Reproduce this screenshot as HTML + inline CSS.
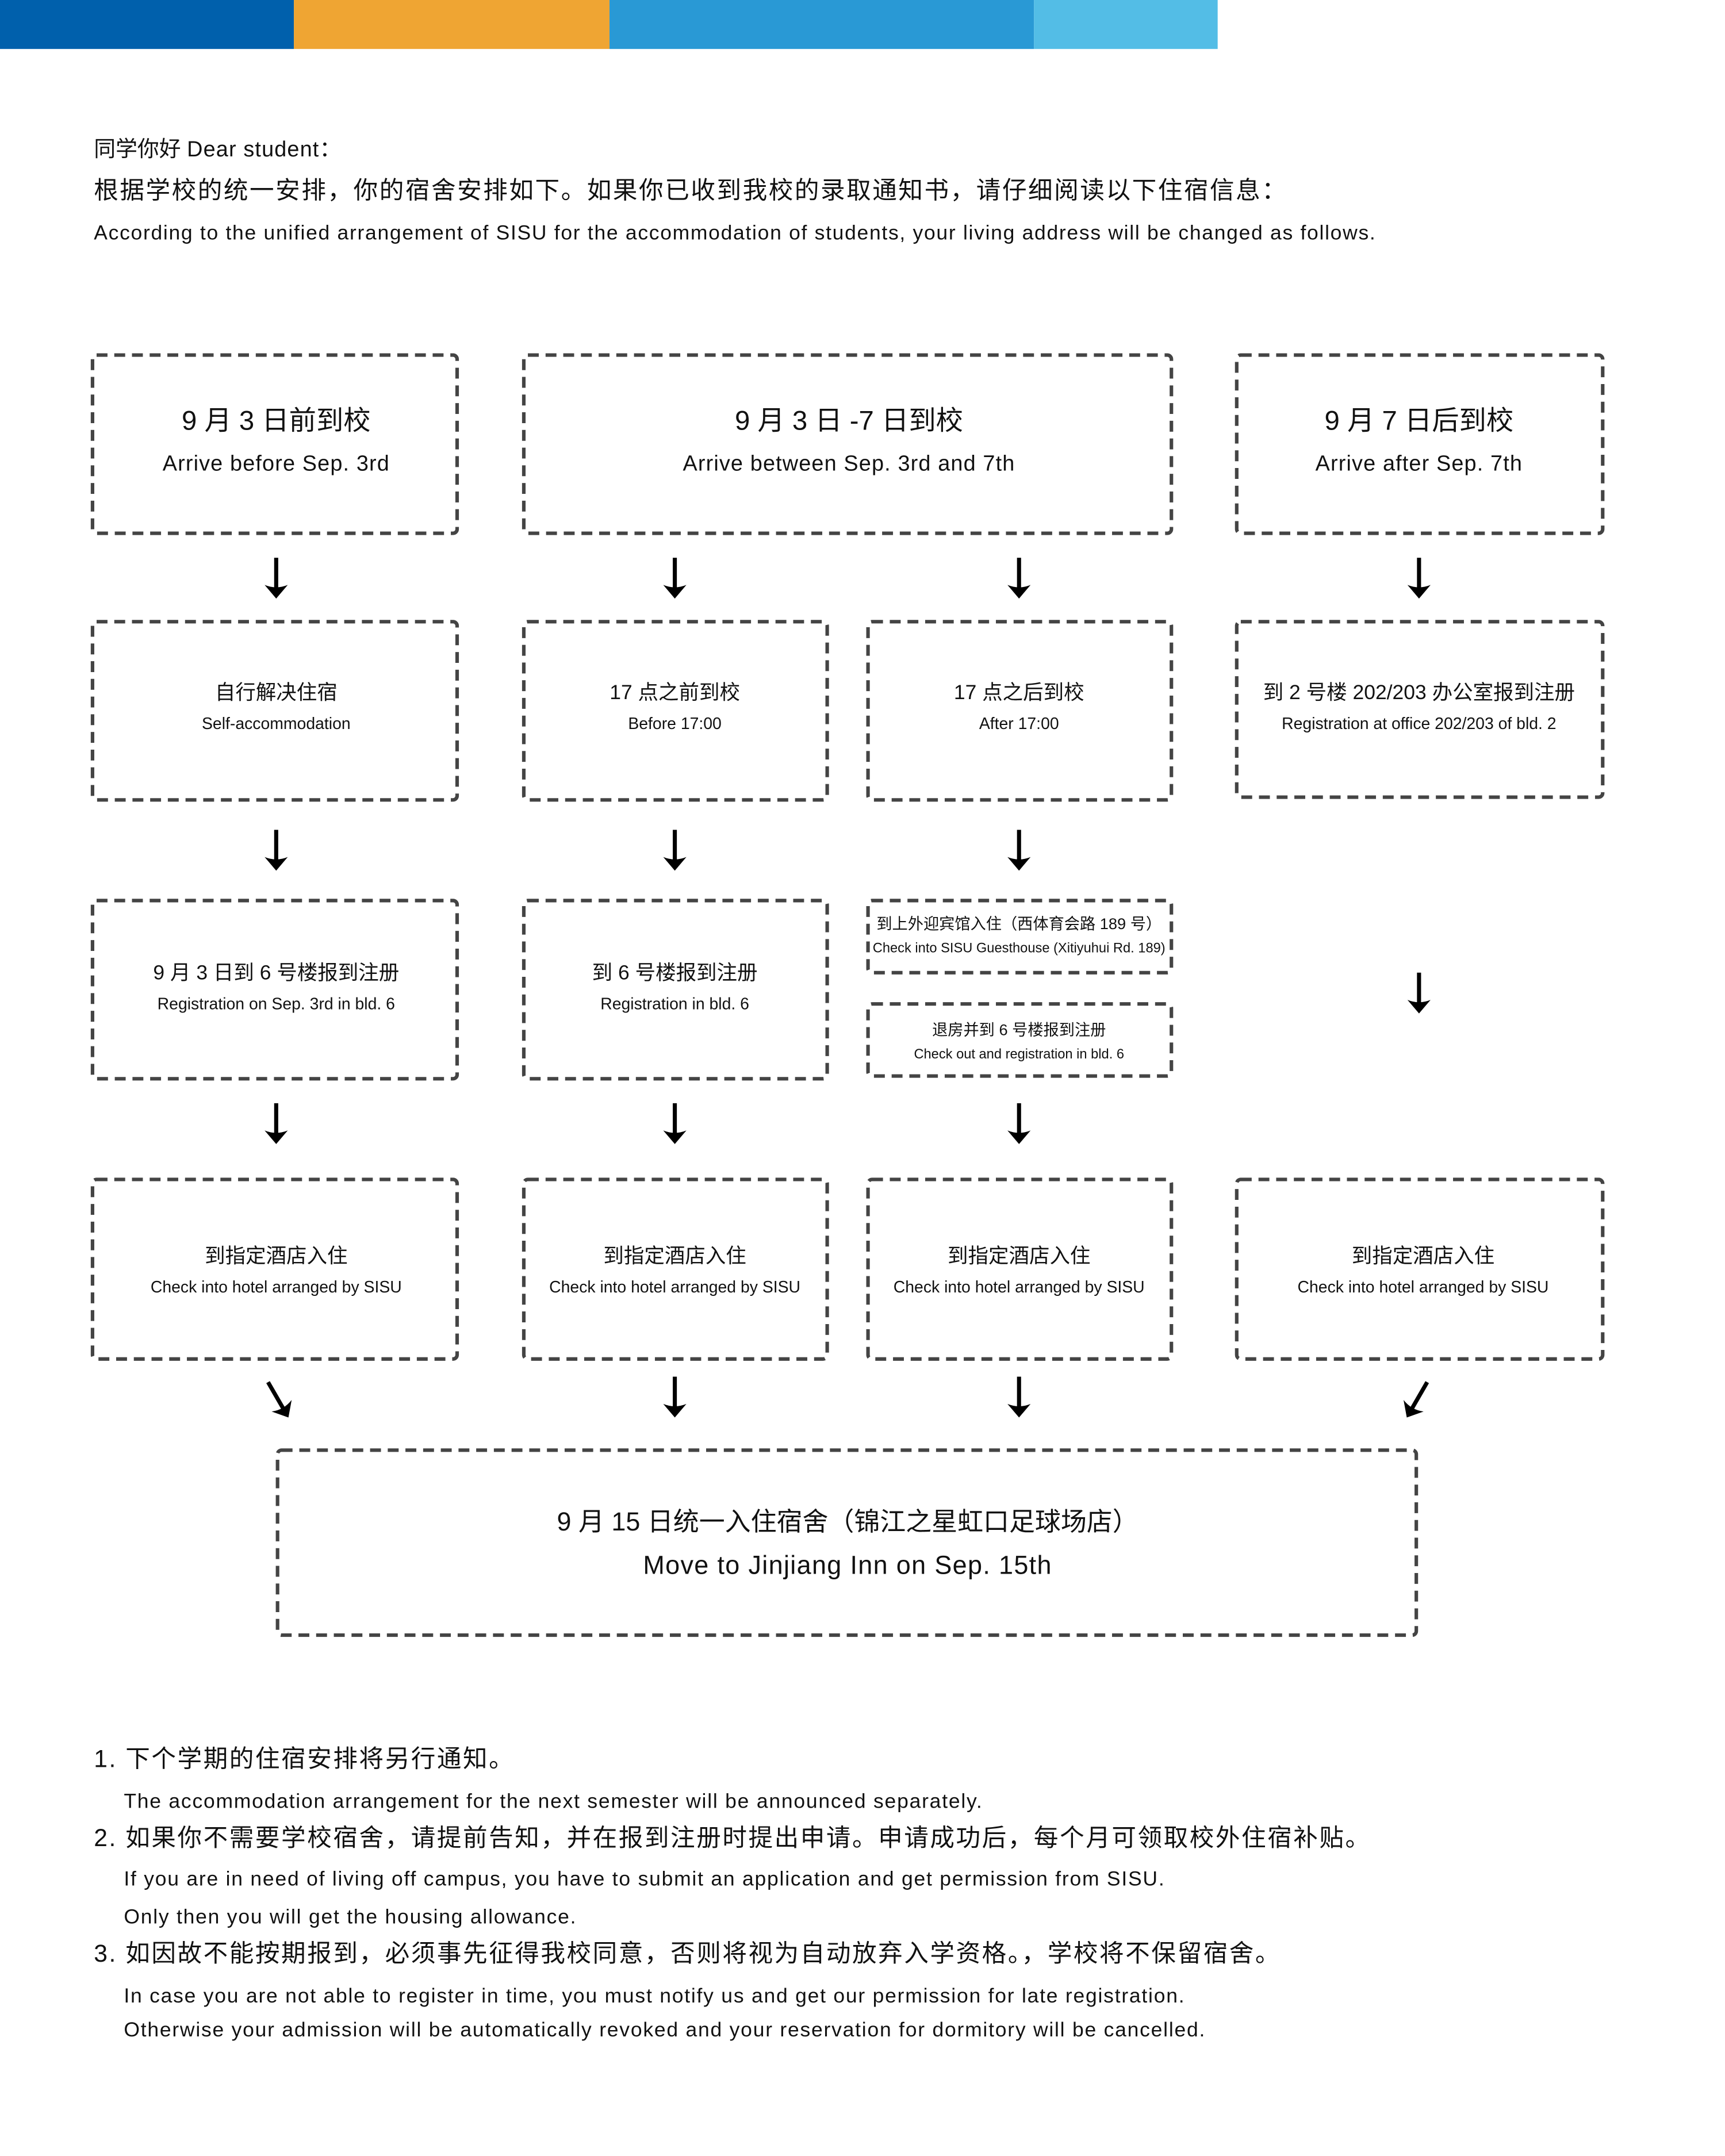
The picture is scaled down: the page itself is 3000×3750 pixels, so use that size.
<!DOCTYPE html>
<html><head><meta charset="utf-8"><style>
html,body{margin:0;padding:0;background:#fff;}
svg{display:block;}
text{font-family:"Liberation Sans","Noto Sans CJK SC",sans-serif;fill:#111;}
.b{fill:none;stroke:#444;stroke-width:2.6;stroke-dasharray:8 5;}
.e{letter-spacing:0.05em;}
.m{letter-spacing:0.03em;}
.c{letter-spacing:0.06em;}
</style></head><body>
<svg width="3000" height="3750" viewBox="0 0 1240 1550" xmlns="http://www.w3.org/2000/svg">
<defs>
<g id="ar"><path d="M-1.5 -30H1.5V-7H-1.5Z" fill="#000"/><path d="M0 0L-8.5 -10Q0 -6.5 8.5 -10Z" fill="#000"/></g>
</defs>
<g transform="scale(0.978)">
<rect x="0" y="0" width="216" height="36" fill="#0060ac"/>
<rect x="216" y="0" width="232" height="36" fill="#efa533"/>
<rect x="448" y="0" width="312" height="36" fill="#2999d5"/>
<rect x="760" y="0" width="135" height="36" fill="#53bde6"/>

<text x="69" y="115" font-size="16">同学你好 <tspan class="m">Dear student</tspan>：</text>
<text x="69" y="146" font-size="18" class="c">根据学校的统一安排，你的宿舍安排如下。如果你已收到我校的录取通知书，请仔细阅读以下住宿信息：</text>
<text x="69" y="176" font-size="15" style="letter-spacing:0.048em">According to the unified arrangement of SISU for the accommodation of students, your living address will be changed as follows.</text>

<g>
<rect class="b" x="68" y="261" width="268" height="131" rx="3"/>
<rect class="b" x="385" y="261" width="476" height="131" rx="3"/>
<rect class="b" x="909" y="261" width="269" height="131" rx="3"/>
<rect class="b" x="68" y="457" width="268" height="131" rx="3"/>
<rect class="b" x="385" y="457" width="223" height="131" rx="3"/>
<rect class="b" x="638" y="457" width="223" height="131" rx="3"/>
<rect class="b" x="909" y="457" width="269" height="129" rx="3"/>
<rect class="b" x="68" y="662" width="268" height="131" rx="3"/>
<rect class="b" x="385" y="662" width="223" height="131" rx="3"/>
<rect class="b" x="638" y="662" width="223" height="53" rx="3"/>
<rect class="b" x="638" y="738" width="223" height="53" rx="3"/>
<rect class="b" x="68" y="867" width="268" height="132" rx="3"/>
<rect class="b" x="385" y="867" width="223" height="132" rx="3"/>
<rect class="b" x="638" y="867" width="223" height="132" rx="3"/>
<rect class="b" x="909" y="867" width="269" height="132" rx="3"/>
<rect class="b" x="204" y="1066" width="837" height="136" rx="3"/>
</g>

<g text-anchor="middle">
<text x="203" y="316" font-size="20">9 月 3 日前到校</text>
<text x="203" y="346" font-size="16" class="m">Arrive before Sep. 3rd</text>
<text x="624" y="316" font-size="20">9 月 3 日 -7 日到校</text>
<text x="624" y="346" font-size="16" class="m">Arrive between Sep. 3rd and 7th</text>
<text x="1043" y="316" font-size="20">9 月 7 日后到校</text>
<text x="1043" y="346" font-size="16" class="m">Arrive after Sep. 7th</text>

<text x="203" y="514" font-size="15">自行解决住宿</text>
<text x="203" y="536" font-size="12">Self-accommodation</text>
<text x="496" y="514" font-size="15">17 点之前到校</text>
<text x="496" y="536" font-size="12">Before 17:00</text>
<text x="749" y="514" font-size="15">17 点之后到校</text>
<text x="749" y="536" font-size="12">After 17:00</text>
<text x="1043" y="514" font-size="15">到 2 号楼 202/203 办公室报到注册</text>
<text x="1043" y="536" font-size="12">Registration at office 202/203 of bld. 2</text>

<text x="203" y="720" font-size="15">9 月 3 日到 6 号楼报到注册</text>
<text x="203" y="742" font-size="12">Registration on Sep. 3rd in bld. 6</text>
<text x="496" y="720" font-size="15">到 6 号楼报到注册</text>
<text x="496" y="742" font-size="12">Registration in bld. 6</text>
<text x="749" y="683" font-size="11.5">到上外迎宾馆入住（西体育会路 189 号）</text>
<text x="749" y="700" font-size="10">Check into SISU Guesthouse (Xitiyuhui Rd. 189)</text>
<text x="749" y="761" font-size="11.5">退房并到 6 号楼报到注册</text>
<text x="749" y="778" font-size="10">Check out and registration in bld. 6</text>

<text x="203" y="928" font-size="15">到指定酒店入住</text>
<text x="203" y="950" font-size="12">Check into hotel arranged by SISU</text>
<text x="496" y="928" font-size="15">到指定酒店入住</text>
<text x="496" y="950" font-size="12">Check into hotel arranged by SISU</text>
<text x="749" y="928" font-size="15">到指定酒店入住</text>
<text x="749" y="950" font-size="12">Check into hotel arranged by SISU</text>
<text x="1046" y="928" font-size="15">到指定酒店入住</text>
<text x="1046" y="950" font-size="12">Check into hotel arranged by SISU</text>

<text x="623" y="1125" font-size="19">9 月 15 日统一入住宿舍（锦江之星虹口足球场店）</text>
<text x="623" y="1157" font-size="19" class="m">Move to Jinjiang Inn on Sep. 15th</text>
</g>

<use href="#ar" transform="translate(203,440)"/>
<use href="#ar" transform="translate(496,440)"/>
<use href="#ar" transform="translate(749,440)"/>
<use href="#ar" transform="translate(1043,440)"/>
<use href="#ar" transform="translate(203,640)"/>
<use href="#ar" transform="translate(496,640)"/>
<use href="#ar" transform="translate(749,640)"/>
<use href="#ar" transform="translate(1043,745)"/>
<use href="#ar" transform="translate(203,841)"/>
<use href="#ar" transform="translate(496,841)"/>
<use href="#ar" transform="translate(749,841)"/>
<use href="#ar" transform="translate(496,1042)"/>
<use href="#ar" transform="translate(749,1042)"/>
<use href="#ar" transform="translate(212,1042) rotate(-30)"/>
<use href="#ar" transform="translate(1034,1042) rotate(30)"/>

<text x="69" y="1299" font-size="18" class="c">1. 下个学期的住宿安排将另行通知。</text>
<text x="91" y="1329" font-size="15" class="e">The accommodation arrangement for the next semester will be announced separately.</text>
<text x="69" y="1357" font-size="18" class="c">2. 如果你不需要学校宿舍，请提前告知，并在报到注册时提出申请。申请成功后，每个月可领取校外住宿补贴。</text>
<text x="91" y="1386" font-size="15" class="e">If you are in need of living off campus, you have to submit an application and get permission from SISU.</text>
<text x="91" y="1414" font-size="15" class="e">Only then you will get the housing allowance.</text>
<text x="69" y="1442" font-size="18" class="c">3. 如因故不能按期报到，必须事先征得我校同意，否则将视为自动放弃入学资格。，学校将不保留宿舍。</text>
<text x="91" y="1472" font-size="15" class="e">In case you are not able to register in time, you must notify us and get our permission for late registration.</text>
<text x="91" y="1497" font-size="15" class="e">Otherwise your admission will be automatically revoked and your reservation for dormitory will be cancelled.</text>
</g>
</svg>
</body></html>
